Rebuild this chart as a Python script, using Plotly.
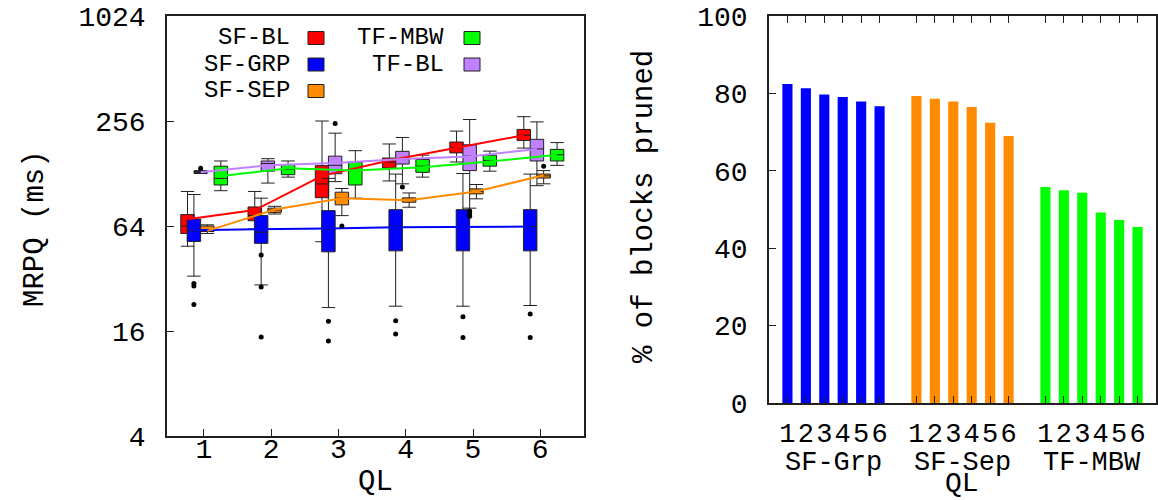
import math
import plotly.graph_objects as go

W, H = 1158, 500

# ---------------- data: left panel (MRPQ box plots, ms) ----------------
ql = [1, 2, 3, 4, 5, 6]

sfbl_low = [49, 61.5, 52, 116, 149, 179]
sfbl_q1 = [58, 68.6, 93, 137.6, 168, 198]
sfbl_med = [64, 73.5, 111.5, 149, 180, 212]
sfbl_q3 = [74.4, 82.3, 142, 157, 194, 229]
sfbl_high = [101, 101, 256, 189, 224, 271]
sfbl_mean = [70, 79, 124, 152, 180, 212]
sfbl_out = [[], [], [], [], [], []]

sfgrp_low = [33, 29.4, 21.8, 22.2, 22.2, 22.4]
sfgrp_q1 = [52.2, 50.9, 45.5, 46.1, 46.1, 46.1]
sfgrp_med = [60, 59, 61.4, 63.7, 63.7, 63.5]
sfgrp_q3 = [70.2, 73.4, 78.4, 79.4, 79.4, 79.4]
sfgrp_high = [97, 92.4, 120, 127, 128, 127]
sfgrp_mean = [60.6, 61, 62, 63, 63.5, 63.5]
sfgrp_out = [[30.0, 29.0, 22.7], [43.6, 28.6, 14.8], [18.2, 14.0],
             [18.3, 15.4], [19.3, 14.7], [20.0, 14.7]]

tfbl_low = [128, 112.8, 115, 111.7, 81, 109]
tfbl_q1 = [129, 132, 127.6, 145, 133, 151]
tfbl_med = [130, 146, 142.5, 155, 161, 177]
tfbl_q3 = [131.5, 151, 161, 171.5, 187, 201]
tfbl_high = [133, 155.6, 218, 206, 261, 253]
tfbl_mean = [130, 142.5, 147, 155, 160, 177]
tfbl_out = [[137], [], [248], [107], [77.9, 75.4, 72.8], []]

sfsep_low = [58, 75, 73.4, 82, 91.6, 111.7]
sfsep_q1 = [59.5, 76.6, 84.6, 87.6, 97.8, 120.5]
sfsep_med = [61, 79, 92.4, 90, 101, 124]
sfsep_q3 = [64, 81, 100, 92.8, 104.5, 127]
sfsep_high = [65, 83, 105, 99, 110.7, 133]
sfsep_mean = [60, 79.5, 92.4, 90, 101, 125]
sfsep_out = [[], [], [64], [], [], [141]]

tfmbw_low = [102, 122, 92.4, 122, 132, 142.5]
tfmbw_q1 = [110, 126, 110, 130, 141, 151]
tfmbw_med = [120, 135, 133, 141, 152, 164]
tfmbw_q3 = [141, 144, 149, 154, 163, 176]
tfmbw_high = [151, 151, 173, 163, 172, 192.5]
tfmbw_mean = [124, 137, 133, 139, 150, 164]
tfmbw_out = [[], [], [], [], [], []]

y_ticks_left = [4, 16, 64, 256, 1024]

# ---------------- data: right panel (% of blocks pruned) ----------------
groups = ["SF-Grp", "SF-Sep", "TF-MBW"]
bar_ticklabels = ["1", "2", "3", "4", "5", "6"]
pruned_sfgrp = [82.4, 81.3, 79.7, 79.1, 77.9, 76.7]
pruned_sfsep = [79.3, 78.6, 77.9, 76.5, 72.4, 69.0]
pruned_tfmbw = [55.8, 55.0, 54.3, 49.2, 47.3, 45.5]
y_ticks_right = [0, 20, 40, 60, 80, 100]

# ---------------- styling ----------------
FONT = "Liberation Mono"
RED, BLUE, ORANGE, GREEN, PURPLE = "#ff0000", "#0000ff", "#ff8c00", "#00ff00", "#c080ff"

series = [
    # name, color, offset, low, q1, med, q3, high, mean, outliers
    ("SF-BL", RED, -0.245, sfbl_low, sfbl_q1, sfbl_med, sfbl_q3, sfbl_high, sfbl_mean, sfbl_out),
    ("SF-GRP", BLUE, -0.15, sfgrp_low, sfgrp_q1, sfgrp_med, sfgrp_q3, sfgrp_high, sfgrp_mean, sfgrp_out),
    ("TF-BL", PURPLE, -0.05, tfbl_low, tfbl_q1, tfbl_med, tfbl_q3, tfbl_high, tfbl_mean, tfbl_out),
    ("SF-SEP", ORANGE, 0.05, sfsep_low, sfsep_q1, sfsep_med, sfsep_q3, sfsep_high, sfsep_mean, sfsep_out),
    ("TF-MBW", GREEN, 0.25, tfmbw_low, tfmbw_q1, tfmbw_med, tfmbw_q3, tfmbw_high, tfmbw_mean, tfmbw_out),
]

fig = go.Figure()

for name, col, off, lo, q1, med, q3, hi, mean, outs in series:
    xs = [q + off for q in ql]
    fig.add_trace(go.Box(
        x=xs, q1=q1, median=med, q3=q3, lowerfence=lo, upperfence=hi,
        width=0.2, whiskerwidth=1, fillcolor=col,
        line=dict(color="#202020", width=1), boxpoints=False,
        name=name, showlegend=False, xaxis="x", yaxis="y", hoverinfo="skip"))

for name, col, off, lo, q1, med, q3, hi, mean, outs in series:
    xs = [q + off for q in ql]
    fig.add_trace(go.Scatter(x=xs, y=mean, mode="lines", line=dict(color=col, width=2),
                             showlegend=False, xaxis="x", yaxis="y", hoverinfo="skip"))

for name, col, off, lo, q1, med, q3, hi, mean, outs in series:
    ox, oy = [], []
    for q, vals in zip(ql, outs):
        for v in vals:
            ox.append(q + off)
            oy.append(v)
    if ox:
        fig.add_trace(go.Scatter(x=ox, y=oy, mode="markers",
                                 marker=dict(color="black", size=5),
                                 showlegend=False, xaxis="x", yaxis="y", hoverinfo="skip"))

# right panel bars
bar_sets = [(pruned_sfgrp, BLUE), (pruned_sfsep, ORANGE), (pruned_tfmbw, GREEN)]
all_pos, all_txt = [], []
gap = len(bar_ticklabels) + 1
group_centers = []
for g, (vals, col) in enumerate(bar_sets):
    pos = [g * gap + i + 1 for i in range(len(vals))]
    all_pos += pos
    all_txt += bar_ticklabels
    group_centers.append(sum(pos) / len(pos))
    fig.add_trace(go.Bar(x=pos, y=vals, width=0.55, marker=dict(color=col, line=dict(width=0)),
                         showlegend=False, xaxis="x2", yaxis="y2", hoverinfo="skip"))

def px(x):
    return x / W

def py(y):
    return 1 - y / H

axis_common = dict(showline=True, linecolor="#202020", linewidth=1.5, mirror=True,
                   showgrid=False, zeroline=False, ticks="inside", ticklen=7,
                   tickcolor="#202020", automargin=False, tickangle=0,
                   tickfont=dict(family=FONT, size=28, color="black"))

fig.update_layout(
    width=W, height=H, margin=dict(l=0, r=0, t=0, b=0, autoexpand=False),
    paper_bgcolor="white", plot_bgcolor="white", showlegend=False,
    boxmode="overlay", barmode="overlay",
    xaxis=dict(domain=[px(167), px(584)], range=[0.45, 6.65], tickvals=ql,
               ticktext=[str(q) for q in ql], anchor="y", ticklabelstandoff=-13, **axis_common),
    yaxis=dict(domain=[py(436), py(16)], type="log",
               range=[math.log10(4), math.log10(1024)], tickvals=y_ticks_left,
               ticktext=[str(v) for v in y_ticks_left], anchor="x", ticklabelstandoff=14,
               **axis_common),
    xaxis2=dict(domain=[px(769), px(1156)], range=[0, 21], tickvals=all_pos, ticktext=all_txt,
                anchor="y2", ticklabelstandoff=5,
                **{**axis_common, "mirror": "ticks",
                   "tickfont": dict(family=FONT, size=27, color="black")}),
    yaxis2=dict(domain=[py(403), py(16)], range=[0, 100], tickvals=y_ticks_right,
                anchor="x2", ticklabelstandoff=14, **axis_common),
)

ann = []
shapes = []
tfont = dict(family=FONT, size=29, color="black")
# axis titles
ann.append(dict(text="MRPQ (ms)", x=px(36), y=py(229), xref="paper", yref="paper",
                xanchor="center", yanchor="middle", textangle=-90, showarrow=False, font=tfont))
ann.append(dict(text="QL", x=px(375), y=py(482), xref="paper", yref="paper",
                xanchor="center", yanchor="middle", showarrow=False, font=tfont))
ann.append(dict(text="% of blocks pruned", x=px(645), y=py(207), xref="paper", yref="paper",
                textangle=-90, xanchor="center", yanchor="middle", showarrow=False, font=tfont))
ann.append(dict(text="QL", x=px(962), y=py(483), xref="paper", yref="paper",
                xanchor="center", yanchor="middle", showarrow=False,
                font=dict(family=FONT, size=28, color="black")))
for gname, gc in zip(groups, group_centers):
    ann.append(dict(text=gname, x=gc, y=py(463), xref="x2", yref="paper",
                    xanchor="center", yanchor="middle", showarrow=False,
                    font=dict(family=FONT, size=27, color="black")))

# manual gnuplot-style legend (text then coloured square)
legend_items = [("SF-BL", RED, 0, 0), ("SF-GRP", BLUE, 0, 1), ("SF-SEP", ORANGE, 0, 2),
                ("TF-MBW", GREEN, 1, 0), ("TF-BL", PURPLE, 1, 1)]
col_text_right = [292, 446]
col_sq_left = [308, 464]
row_y = [38, 64.5, 91]
for label, col, c, r in legend_items:
    ann.append(dict(text=label, x=px(col_text_right[c]), y=py(row_y[r]), xref="paper",
                    yref="paper", xanchor="right", yanchor="middle", showarrow=False,
                    font=dict(family=FONT, size=24, color="black")))
    shapes.append(dict(type="rect", xref="paper", yref="paper",
                       x0=px(col_sq_left[c]), x1=px(col_sq_left[c] + 16),
                       y0=py(row_y[r] + 6.5), y1=py(row_y[r] - 6.5),
                       fillcolor=col, line=dict(color="#202020", width=1)))

fig.update_layout(annotations=ann, shapes=shapes)
fig.write_html("out.html")
